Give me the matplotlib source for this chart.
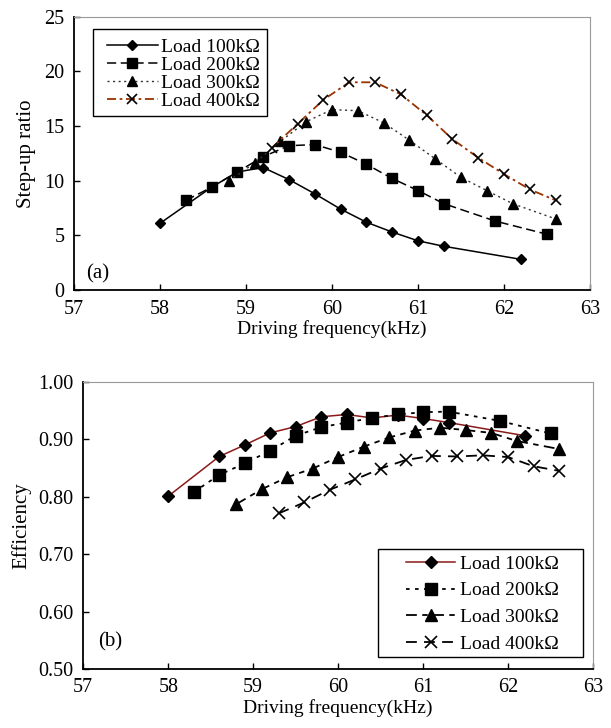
import matplotlib
matplotlib.use("Agg")
import matplotlib.pyplot as plt
from matplotlib.ticker import FormatStrFormatter
from matplotlib.patches import Rectangle

plt.rcParams['font.family'] = ['Liberation Serif', 'DejaVu Serif']
plt.rcParams['mathtext.fontset'] = 'stix'

# ---- (a) Step-up ratio ----
f_a100 = [58.0, 58.6, 58.9, 59.2, 59.5, 59.8, 60.1, 60.4, 60.7, 61.0, 61.3, 62.2]
r_a100 = [6.1, 9.4, 10.8, 11.2, 10.1, 8.8, 7.4, 6.2, 5.3, 4.5, 4.0, 2.8]
f_a200 = [58.3, 58.6, 58.9, 59.2, 59.5, 59.8, 60.1, 60.4, 60.7, 61.0, 61.3, 61.9, 62.5]
r_a200 = [8.2, 9.4, 10.8, 12.2, 13.2, 13.3, 12.6, 11.5, 10.2, 9.1, 7.9, 6.3, 5.1]
f_a300 = [58.8, 59.1, 59.4, 59.7, 60.0, 60.3, 60.6, 60.9, 61.2, 61.5, 61.8, 62.1, 62.6]
r_a300 = [10.0, 11.6, 13.6, 15.4, 16.5, 16.4, 15.3, 13.7, 12.0, 10.3, 9.1, 7.9, 6.5]
f_a400 = [59.3, 59.6, 59.9, 60.2, 60.5, 60.8, 61.1, 61.4, 61.7, 62.0, 62.3, 62.6]
r_a400 = [13.0, 15.2, 17.4, 19.0, 19.0, 17.9, 16.0, 13.8, 12.1, 10.6, 9.2, 8.2]

# ---- (b) Efficiency ----
f_b100 = [58.0, 58.6, 58.9, 59.2, 59.5, 59.8, 60.1, 60.4, 60.7, 61.0, 61.3, 62.2]
e_b100 = [0.801, 0.870, 0.890, 0.911, 0.922, 0.939, 0.943, 0.937, 0.942, 0.936, 0.929, 0.906]
f_b200 = [58.3, 58.6, 58.9, 59.2, 59.5, 59.8, 60.1, 60.4, 60.7, 61.0, 61.3, 61.9, 62.5]
e_b200 = [0.808, 0.838, 0.858, 0.880, 0.906, 0.921, 0.929, 0.937, 0.943, 0.947, 0.948, 0.932, 0.910]
f_b300 = [58.8, 59.1, 59.4, 59.7, 60.0, 60.3, 60.6, 60.9, 61.2, 61.5, 61.8, 62.1, 62.6]
e_b300 = [0.787, 0.813, 0.834, 0.849, 0.869, 0.887, 0.903, 0.915, 0.920, 0.916, 0.911, 0.897, 0.883]
f_b400 = [59.3, 59.6, 59.9, 60.2, 60.5, 60.8, 61.1, 61.4, 61.7, 62.0, 62.3, 62.6]
e_b400 = [0.771, 0.790, 0.812, 0.830, 0.849, 0.864, 0.871, 0.870, 0.872, 0.869, 0.853, 0.845]

labels = ['Load 100k\u03a9', 'Load 200k\u03a9', 'Load 300k\u03a9', 'Load 400k\u03a9']
x_ticks = [57, 58, 59, 60, 61, 62, 63]
a_yticks = [0, 5, 10, 15, 20, 25]
b_yticks = [0.50, 0.60, 0.70, 0.80, 0.90, 1.00]

W, H = 611, 728
fig = plt.figure(figsize=(W/100, H/100), dpi=100)

# axes boxes in pixels (left, top, right, bottom)
A1 = (74, 16.7, 590, 290)
A2 = (83.3, 381.7, 593, 669.3)

def add_ax(b):
    l, t, r, btm = b
    return fig.add_axes([l/W, 1-btm/H, (r-l)/W, (btm-t)/H])

ax1 = add_ax(A1)
ax2 = add_ax(A2)

def frac(b, x, y):
    l, t, r, btm = b
    return ((x-l)/(r-l), (btm-y)/(btm-t))

TFS = 14.5
LFS = 14

def style(ax, xpad):
    for s in ['top', 'right']:
        ax.spines[s].set_color('#999999')
    for s in ['left', 'bottom']:
        ax.spines[s].set_color('black')
        ax.spines[s].set_linewidth(1.3)
    ax.tick_params(direction='in', labelsize=TFS, length=4, width=1)
    ax.tick_params(axis='x', pad=xpad)
    ax.tick_params(axis='y', pad=7)
    ax.set_xlim(57, 63)
    ax.set_xticks(x_ticks)

def legend_box(ax, b, x0, y0, x1, y1):
    fx0, fy1 = frac(b, x0, y1)
    fx1, fy0 = frac(b, x1, y0)
    ax.add_patch(Rectangle((fx0, fy1), fx1-fx0, fy0-fy1, transform=ax.transAxes,
                           facecolor='white', edgecolor='black', lw=1.0, zorder=4))

# (a)
ax1.plot(f_a100, r_a100, color='black', lw=1.1, ls='-', marker='D', ms=5.5, mfc='black', mec='black', label=labels[0])
ax1.plot(f_a200, r_a200, color='black', lw=1.1, ls=(0, (6, 3)), marker='s', ms=7, mfc='black', mec='black', label=labels[1])
ax1.plot(f_a300, r_a300, color='#333333', lw=1.0, ls=(0, (1.5, 2.5)), marker='^', ms=7, mfc='black', mec='black', label=labels[2])
ax1.plot(f_a400, r_a400, color='#993300', lw=1.3, ls=(0, (5, 2, 1.5, 2)), marker='x', ms=7, mew=1.2, mfc='black', mec='black', label=labels[3])
style(ax1, 7)
ax1.set_ylim(0, 25)
ax1.set_yticks(a_yticks)
ax1.set_xlabel('Driving frequency(kHz)', fontsize=LFS, labelpad=1)
ax1.set_ylabel('Step-up ratio', fontsize=LFS + 1, labelpad=6)
ax1.text(*frac(A1, 86, 273.5), '(a)', transform=ax1.transAxes, fontsize=LFS + 1, va='center', ha='left')
legend_box(ax1, A1, 93, 29.3, 267, 116)
leg1 = ax1.legend(loc='upper left', bbox_to_anchor=frac(A1, 106.7, 38), fontsize=LFS, frameon=False,
                  handlelength=2.62, handletextpad=0.19, labelspacing=0.02, borderpad=0, borderaxespad=0)
leg1.set_zorder(5)

# (b)
ax2.plot(f_b100, e_b100, color='#8B1A1A', lw=1.1, ls='-', marker='D', ms=6, mfc='black', mec='black', label=labels[0])
ax2.plot(f_b200, e_b200, color='black', lw=1.3, ls=(0, (2, 3)), marker='s', ms=8, mfc='black', mec='black', label=labels[1])
ax2.plot(f_b300, e_b300, color='black', lw=1.3, ls=(0, (6, 3, 3, 3)), marker='^', ms=8, mfc='black', mec='black', label=labels[2])
ax2.plot(f_b400, e_b400, color='black', lw=1.3, ls=(0, (6, 4)), marker='x', ms=8, mew=1.2, mfc='black', mec='black', label=labels[3])
style(ax2, 6)
ax2.set_ylim(0.5, 1.0)
ax2.set_yticks(b_yticks)
ax2.yaxis.set_major_formatter(FormatStrFormatter('%.2f'))
ax2.set_xlabel('Driving frequency(kHz)', fontsize=LFS, labelpad=2)
ax2.set_ylabel('Efficiency', fontsize=LFS + 1, labelpad=5)
ax2.text(*frac(A2, 98, 641.7), '(b)', transform=ax2.transAxes, fontsize=LFS + 1, va='center', ha='left')
legend_box(ax2, A2, 378, 549.3, 583, 656.7)
leg2 = ax2.legend(loc='upper left', bbox_to_anchor=frac(A2, 406, 555), fontsize=LFS, frameon=False,
                  handlelength=2.52, handletextpad=0.26, labelspacing=0.47, borderpad=0, borderaxespad=0)
leg2.set_zorder(5)

fig.savefig('out.png', dpi=100, facecolor='white')
